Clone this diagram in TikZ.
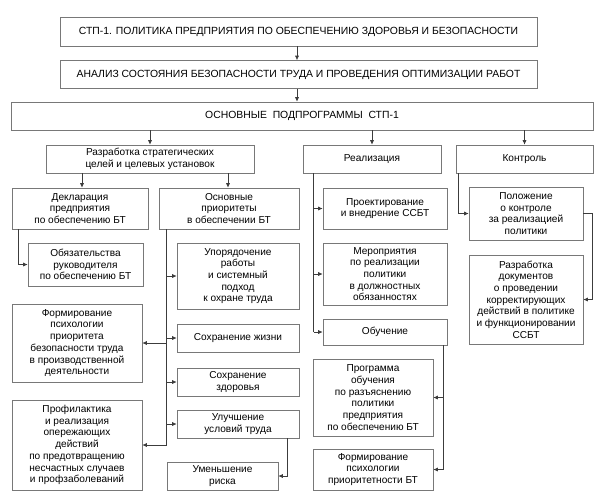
\documentclass[tikz,border=0pt]{standalone}
\usepackage{fontspec}
\setmainfont{Liberation Sans}
\usetikzlibrary{arrows.meta}
\definecolor{boxgray}{RGB}{120,120,120}
\definecolor{linegray}{RGB}{60,60,60}
\begin{document}
\begin{tikzpicture}[x=1pt,y=-1pt,
    box/.style={draw=boxgray,line width=0.6pt,align=center,inner sep=0pt,
        font=\fontsize{10.1}{11.7}\selectfont},
    head/.style={box,font=\fontsize{10.4}{12}\selectfont},
    arr/.style={draw=linegray,line width=0.6pt,-{Latex[length=4.5pt,width=4pt]}},
    trunk/.style={draw=linegray,line width=0.6pt}]
    \useasboundingbox (0,0) rectangle (600,499);

    \node[head,minimum width=477pt,minimum height=29pt] (Policy) at (298.5,31.5)
        {СТП-1. ПОЛИТИКА ПРЕДПРИЯТИЯ ПО ОБЕСПЕЧЕНИЮ ЗДОРОВЬЯ И БЕЗОПАСНОСТИ};
    \node[head,minimum width=477pt,minimum height=28pt] (Analysis) at (298.5,74.5)
        {АНАЛИЗ СОСТОЯНИЯ БЕЗОПАСНОСТИ ТРУДА И ПРОВЕДЕНИЯ ОПТИМИЗАЦИИ РАБОТ};
    \node[head,minimum width=582pt,minimum height=28pt] (Subprograms) at (302,116)
        {ОСНОВНЫЕ\ \ ПОДПРОГРАММЫ\ \ СТП-1};

    \node[box,minimum width=208pt,minimum height=28pt] (Strategy) at (150,159)
        {Разработка стратегических\\целей и целевых установок};
    \node[box,minimum width=138pt,minimum height=28pt] (Realization) at (372,159) {Реализация};
    \node[box,minimum width=137pt,minimum height=28pt] (Control) at (524.5,159) {Контроль};

    \node[box,minimum width=136pt,minimum height=41pt] (Declaration) at (80,208.5)
        {Декларация\\предприятия\\по обеспечению БТ};
    \node[box,minimum width=140pt,minimum height=41pt] (Priorities) at (229,208.5)
        {Основные\\приоритеты\\в обеспечении БТ};
    \node[box,minimum width=115pt,minimum height=43pt] (Duties) at (85.5,264.5)
        {Обязательства\\руководителя\\по обеспечению БТ};

    \node[box,minimum width=122pt,minimum height=66pt] (Order) at (238,276)
        {Упорядочение\\работы\\и системный\\подход\\к охране труда};
    \node[box,minimum width=122pt,minimum height=28pt] (Life) at (238,338) {Сохранение жизни};
    \node[box,minimum width=122pt,minimum height=28pt] (Health) at (238,382) {Сохранение\\здоровья};
    \node[box,minimum width=122pt,minimum height=28pt] (Conditions) at (238,424) {Улучшение\\условий труда};
    \node[box,minimum width=111pt,minimum height=28pt] (Risk) at (222.5,476) {Уменьшение\\риска};

    \node[box,minimum width=130pt,minimum height=78pt] (Psychology) at (77,343)
        {Формирование\\психологии\\приоритета\\безопасности труда\\в производственной\\деятельности};
    \node[box,minimum width=130pt,minimum height=90pt] (Prevention) at (77,445)
        {Профилактика\\и реализация\\опережающих\\действий\\по предотвращению\\несчастных случаев\\и профзаболеваний};

    \node[box,minimum width=124pt,minimum height=41pt] (Design) at (385,208.5)
        {Проектирование\\и внедрение ССБТ};
    \node[box,minimum width=124pt,minimum height=62pt] (Measures) at (385,274)
        {Мероприятия\\по реализации\\политики\\в должностных\\обязанностях};
    \node[box,minimum width=124pt,minimum height=26pt] (Training) at (385,332) {Обучение};
    \node[box,minimum width=120pt,minimum height=77pt] (Program) at (373,397.5)
        {Программа\\обучения\\по разъяснению\\политики\\предприятия\\по обеспечению БТ};
    \node[box,minimum width=120pt,minimum height=41pt] (Awareness) at (373,469.5)
        {Формирование\\психологии\\приоритетности БТ};

    \node[box,minimum width=114pt,minimum height=53pt] (Regulation) at (526,213.5)
        {Положение\\о контроле\\за реализацией\\политики};
    \node[box,minimum width=114pt,minimum height=89pt] (Corrective) at (526,299.5)
        {Разработка\\документов\\о проведении\\корректирующих\\действий в политике\\и функционировании\\ССБТ};

    % top chain
    \draw[arr] (Policy.south -| 297,0) -- (Analysis.north -| 297,0);
    \draw[arr] (Analysis.south -| 297,0) -- (Subprograms.north -| 297,0);
    \draw[arr] (Subprograms.south -| Strategy.north) -- (Strategy.north);
    \draw[arr] (Subprograms.south -| Realization.north) -- (Realization.north);
    \draw[arr] (Subprograms.south -| Control.north) -- (Control.north);

    % strategy branch
    \draw[arr] (Strategy.south -| 82,0) -- (Declaration.north -| 82,0);
    \draw[arr] (Strategy.south -| 228,0) -- (Priorities.north -| 228,0);
    \draw[arr] ([xshift=7pt]Declaration.south west) |- (Duties.west);

    \coordinate (PrioTrunk) at ([xshift=8pt]Priorities.south west);
    \draw[trunk] (PrioTrunk) -- (PrioTrunk |- Prevention.east);
    \draw[arr] (PrioTrunk |- Order.west) -- (Order.west);
    \draw[arr] (PrioTrunk |- Life.west) -- (Life.west);
    \draw[arr] (PrioTrunk |- Health.west) -- (Health.west);
    \draw[arr] (PrioTrunk |- Conditions.west) -- (Conditions.west);
    \draw[arr] (PrioTrunk |- Psychology.east) -- (Psychology.east);
    \draw[arr] (PrioTrunk |- Prevention.east) -- (Prevention.east);
    \draw[arr] ([xshift=-12pt]Conditions.south east) |- (Risk.east);

    % realization branch
    \coordinate (RealTrunk) at ([xshift=11pt]Realization.south west);
    \draw[trunk] (RealTrunk) -- (RealTrunk |- Training.west);
    \draw[arr] (RealTrunk |- Design.west) -- (Design.west);
    \draw[arr] (RealTrunk |- Measures.west) -- (Measures.west);
    \draw[arr] (RealTrunk |- Training.west) -- (Training.west);

    \coordinate (TrainTrunk) at ([xshift=-4pt]Training.south east);
    \draw[trunk] (TrainTrunk) -- (TrainTrunk |- Awareness.east);
    \draw[arr] (TrainTrunk |- Program.east) -- (Program.east);
    \draw[arr] (TrainTrunk |- Awareness.east) -- (Awareness.east);

    % control branch
    \draw[arr] ([xshift=3pt]Control.south west) |- (Regulation.west);
    \draw[arr] (Regulation.east) -- ++(9,0) |- (Corrective.east);
\end{tikzpicture}
\end{document}
